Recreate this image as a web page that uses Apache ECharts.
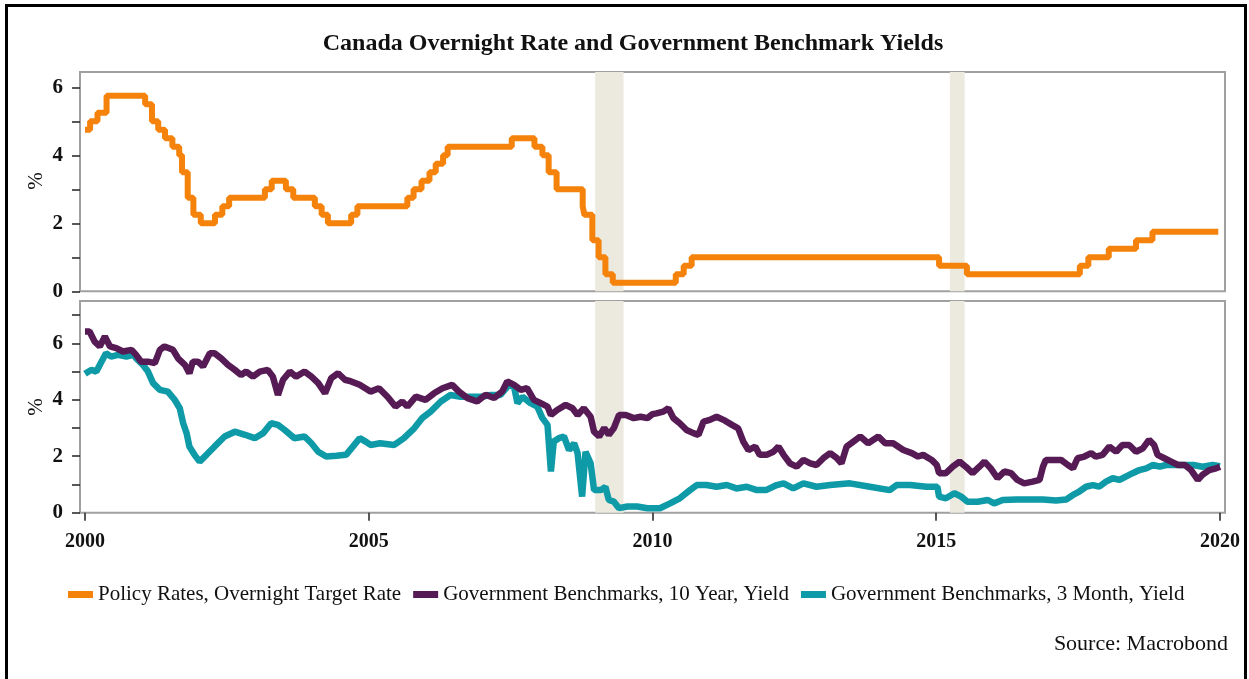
<!DOCTYPE html>
<html>
<head>
<meta charset="utf-8">
<script src="https://cdn.jsdelivr.net/npm/echarts@6/dist/echarts.min.js"></script>
<style>
  html, body { margin: 0; padding: 0; background: #fff; }
  #chart { width: 1249px; height: 679px; }
</style>
</head>
<body>
<div id="chart"></div>
<script>
// policy rate: date of change (decimal year) and new target rate
var policyDates = [2000.00, 2000.09, 2000.22, 2000.38, 2001.06, 2001.18, 2001.29, 2001.41, 2001.54, 2001.66,
  2001.71, 2001.81, 2001.91, 2002.04, 2002.29, 2002.42, 2002.54, 2003.17, 2003.29, 2003.54,
  2003.67, 2004.05, 2004.17, 2004.28, 2004.69, 2004.80, 2005.68, 2005.79, 2005.93, 2006.07,
  2006.18, 2006.31, 2006.39, 2007.52, 2007.92, 2008.06, 2008.17, 2008.31, 2008.77, 2008.80,
  2008.94, 2009.05, 2009.17, 2009.30, 2010.41, 2010.55, 2010.69, 2015.05, 2015.54, 2017.53,
  2017.68, 2018.04, 2018.52, 2018.81, 2019.97]
var policyRates = [4.75, 5.00, 5.25, 5.75, 5.50, 5.00, 4.75, 4.50, 4.25, 4.00,
  3.50, 2.75, 2.25, 2.00, 2.25, 2.50, 2.75, 3.00, 3.25, 3.00,
  2.75, 2.50, 2.25, 2.00, 2.25, 2.50, 2.75, 3.00, 3.25, 3.50,
  3.75, 4.00, 4.25, 4.50, 4.25, 4.00, 3.50, 3.00, 2.50, 2.25,
  1.50, 1.00, 0.50, 0.25, 0.50, 0.75, 1.00, 0.75, 0.50, 0.75,
  1.00, 1.25, 1.50, 1.75, 1.75]

var tenYearDates = [2000.00, 2000.08, 2000.17, 2000.26, 2000.35, 2000.44, 2000.55, 2000.67, 2000.82, 2000.90,
  2000.99, 2001.11, 2001.23, 2001.32, 2001.40, 2001.55, 2001.64, 2001.76, 2001.84, 2001.90,
  2001.99, 2002.08, 2002.20, 2002.28, 2002.40, 2002.52, 2002.64, 2002.75, 2002.84, 2002.96,
  2003.08, 2003.22, 2003.31, 2003.40, 2003.49, 2003.61, 2003.72, 2003.87, 2003.99, 2004.11,
  2004.23, 2004.34, 2004.46, 2004.58, 2004.69, 2004.84, 2004.96, 2005.03, 2005.18, 2005.33,
  2005.47, 2005.59, 2005.68, 2005.83, 2006.00, 2006.15, 2006.30, 2006.47, 2006.59, 2006.74,
  2006.91, 2007.06, 2007.21, 2007.35, 2007.44, 2007.56, 2007.68, 2007.79, 2007.91, 2008.03,
  2008.15, 2008.21, 2008.32, 2008.47, 2008.59, 2008.68, 2008.79, 2008.91, 2008.97, 2009.06,
  2009.15, 2009.23, 2009.32, 2009.41, 2009.53, 2009.67, 2009.79, 2009.91, 2010.00, 2010.07,
  2010.19, 2010.28, 2010.37, 2010.48, 2010.60, 2010.72, 2010.81, 2010.90, 2011.01, 2011.13,
  2011.25, 2011.40, 2011.51, 2011.60, 2011.69, 2011.81, 2011.89, 2012.01, 2012.13, 2012.22,
  2012.31, 2012.42, 2012.54, 2012.66, 2012.78, 2012.89, 2013.01, 2013.13, 2013.25, 2013.33,
  2013.42, 2013.54, 2013.66, 2013.80, 2013.98, 2014.10, 2014.24, 2014.42, 2014.57, 2014.68,
  2014.77, 2014.92, 2015.01, 2015.05, 2015.17, 2015.29, 2015.41, 2015.52, 2015.64, 2015.76,
  2015.85, 2015.96, 2016.08, 2016.20, 2016.32, 2016.43, 2016.55, 2016.70, 2016.82, 2016.88,
  2016.93, 2017.05, 2017.20, 2017.32, 2017.41, 2017.49, 2017.61, 2017.73, 2017.81, 2017.93,
  2018.05, 2018.17, 2018.28, 2018.40, 2018.52, 2018.64, 2018.75, 2018.84, 2018.90, 2019.02,
  2019.14, 2019.26, 2019.38, 2019.49, 2019.61, 2019.69, 2019.81, 2019.93, 2020.00]
var tenYearValues = [6.42, 6.42, 6.06, 5.89, 6.24, 5.89, 5.83, 5.71, 5.77, 5.59,
  5.35, 5.35, 5.30, 5.77, 5.89, 5.77, 5.47, 5.24, 4.94, 5.35,
  5.35, 5.18, 5.65, 5.65, 5.47, 5.24, 5.06, 4.88, 5.00, 4.82,
  5.00, 5.06, 4.82, 4.17, 4.71, 5.00, 4.82, 5.00, 4.82, 4.59,
  4.23, 4.77, 4.94, 4.71, 4.65, 4.53, 4.38, 4.29, 4.41, 4.11,
  3.76, 3.94, 3.76, 4.11, 4.00, 4.23, 4.41, 4.53, 4.29, 4.06,
  3.94, 4.18, 4.06, 4.29, 4.65, 4.53, 4.35, 4.41, 4.00, 3.88,
  3.76, 3.46, 3.64, 3.82, 3.70, 3.46, 3.70, 3.40, 2.87, 2.70,
  3.00, 2.76, 3.00, 3.46, 3.46, 3.35, 3.40, 3.35, 3.49, 3.52,
  3.58, 3.70, 3.35, 3.17, 2.93, 2.82, 2.76, 3.23, 3.29, 3.40,
  3.29, 3.11, 2.99, 2.52, 2.22, 2.34, 2.05, 2.05, 2.16, 2.34,
  2.05, 1.75, 1.63, 1.87, 1.75, 1.69, 1.93, 2.11, 1.93, 1.75,
  2.34, 2.52, 2.70, 2.46, 2.70, 2.46, 2.46, 2.22, 2.11, 1.99,
  2.05, 1.87, 1.69, 1.40, 1.40, 1.63, 1.81, 1.63, 1.40, 1.63,
  1.81, 1.57, 1.22, 1.46, 1.40, 1.16, 1.04, 1.10, 1.16, 1.63,
  1.87, 1.87, 1.87, 1.69, 1.57, 1.93, 1.99, 2.11, 1.99, 2.05,
  2.34, 2.16, 2.40, 2.40, 2.16, 2.28, 2.58, 2.40, 2.05, 1.93,
  1.81, 1.69, 1.69, 1.51, 1.16, 1.34, 1.51, 1.57, 1.63]

var threeMonthDates = [2000.00, 2000.11, 2000.20, 2000.29, 2000.37, 2000.46, 2000.58, 2000.73, 2000.85, 2000.93,
  2001.02, 2001.11, 2001.20, 2001.32, 2001.46, 2001.58, 2001.67, 2001.73, 2001.79, 2001.84,
  2001.93, 2002.02, 2002.14, 2002.28, 2002.46, 2002.64, 2002.82, 2002.99, 2003.14, 2003.28,
  2003.40, 2003.52, 2003.69, 2003.87, 2003.99, 2004.11, 2004.25, 2004.43, 2004.60, 2004.72,
  2004.84, 2004.96, 2005.03, 2005.20, 2005.45, 2005.62, 2005.80, 2005.94, 2006.09, 2006.27,
  2006.44, 2006.62, 2006.80, 2006.98, 2007.15, 2007.32, 2007.47, 2007.56, 2007.62, 2007.71,
  2007.85, 2007.97, 2008.06, 2008.15, 2008.21, 2008.26, 2008.35, 2008.44, 2008.53, 2008.62,
  2008.68, 2008.76, 2008.82, 2008.91, 2008.97, 2009.09, 2009.17, 2009.23, 2009.32, 2009.41,
  2009.56, 2009.73, 2009.91, 2010.01, 2010.13, 2010.31, 2010.48, 2010.66, 2010.78, 2010.95,
  2011.13, 2011.31, 2011.48, 2011.66, 2011.84, 2012.00, 2012.19, 2012.31, 2012.48, 2012.66,
  2012.89, 2013.13, 2013.48, 2013.83, 2014.18, 2014.30, 2014.54, 2014.83, 2015.02, 2015.05,
  2015.17, 2015.32, 2015.44, 2015.55, 2015.73, 2015.91, 2016.02, 2016.17, 2016.41, 2016.64,
  2016.88, 2017.11, 2017.29, 2017.41, 2017.52, 2017.64, 2017.76, 2017.87, 2017.99, 2018.11,
  2018.23, 2018.34, 2018.46, 2018.58, 2018.70, 2018.82, 2018.94, 2019.05, 2019.17, 2019.35,
  2019.53, 2019.69, 2019.87, 2020.00]
var threeMonthValues = [4.92, 5.06, 5.00, 5.35, 5.65, 5.53, 5.59, 5.53, 5.59, 5.41,
  5.24, 5.00, 4.59, 4.35, 4.29, 4.00, 3.70, 3.17, 2.82, 2.34,
  2.05, 1.81, 2.05, 2.34, 2.70, 2.87, 2.76, 2.64, 2.82, 3.17,
  3.11, 2.93, 2.64, 2.70, 2.46, 2.16, 1.99, 2.02, 2.05, 2.34,
  2.64, 2.50, 2.40, 2.46, 2.40, 2.64, 2.99, 3.35, 3.58, 3.94,
  4.17, 4.11, 4.11, 4.11, 4.17, 4.17, 4.53, 4.47, 3.88, 4.11,
  3.88, 3.76, 3.35, 3.11, 1.46, 2.52, 2.64, 2.70, 2.22, 2.46,
  2.11, 0.57, 2.16, 1.75, 0.80, 0.80, 0.92, 0.45, 0.39, 0.16,
  0.22, 0.22, 0.16, 0.16, 0.16, 0.33, 0.51, 0.80, 0.98, 0.98,
  0.92, 0.98, 0.86, 0.92, 0.80, 0.80, 0.98, 1.04, 0.86, 1.04,
  0.92, 0.98, 1.04, 0.92, 0.80, 0.98, 0.98, 0.92, 0.92, 0.57,
  0.51, 0.69, 0.57, 0.39, 0.39, 0.45, 0.33, 0.45, 0.47, 0.47,
  0.47, 0.43, 0.47, 0.63, 0.75, 0.92, 0.98, 0.92, 1.10, 1.22,
  1.16, 1.28, 1.40, 1.51, 1.57, 1.69, 1.63, 1.69, 1.69, 1.69,
  1.69, 1.63, 1.69, 1.65]

// shaded periods [start, end]
var recessions = [[2008.99, 2009.49], [2015.24, 2015.50]]

var yearTicks = [2000, 2005, 2010, 2015, 2020]
var topTicks = [0, 1, 2, 3, 4, 5, 6]
var topLabels = [0, 2, 4, 6]
var bottomTicks = [0, 1, 2, 3, 4, 5, 6, 7]
var bottomLabels = [0, 2, 4, 6]

var seriesNames = ['Policy Rates, Overnight Target Rate', 'Government Benchmarks, 10 Year, Yield', 'Government Benchmarks, 3 Month, Yield']

function pairs (xs, ys){
  let out = []
  for(let i = 0;i<xs.length;i++){
    out.push([xs[i], ys[i]])
  }
  return out
}

var font = 'Liberation Serif'
var xMin = 2000 - 5 / 56.75
var xMax = 2020 + 5 / 56.75

function xAxisOf (gridIndex, showLabels){
  return {
    type: 'value',
    gridIndex: gridIndex,
    min: xMin,
    max: xMax,
    splitLine: {show: false},
    axisLine: {show: false},
    axisTick: {
      show: showLabels,
      customValues: yearTicks,
      length: 8,
      lineStyle: {color: '#222', width: 1.5},
    },
    axisLabel: {
      show: showLabels,
      customValues: yearTicks,
      margin: 19,
      fontFamily: font,
      fontWeight: 'bold',
      fontSize: 20,
      color: '#111',
      formatter: function (v){ return String(Math.round(v)) },
    },
  }
}

function yAxisOf (gridIndex, max, ticks, labels){
  return {
    type: 'value',
    gridIndex: gridIndex,
    min: 0,
    max: max,
    splitLine: {show: false},
    axisLine: {show: false},
    axisTick: {
      show: true,
      customValues: ticks,
      length: 8,
      lineStyle: {color: '#222', width: 1.5},
    },
    axisLabel: {
      customValues: labels,
      margin: 17,
      fontFamily: font,
      fontWeight: 'bold',
      fontSize: 21,
      color: '#111',
    },
  }
}

// rotated "%" unit label beside a panel
function unitLabel (y){
  return {
    type: 'text',
    x: 36,
    y: y,
    rotation: Math.PI / 2,
    silent: true,
    style: {text: '%', fontFamily: font, fontSize: 21, fill: '#111', align: 'center', verticalAlign: 'middle'},
  }
}

var shade = {
  silent: true,
  itemStyle: {color: '#ECE9DF'},
  data: recessions.map(function (r){ return [{xAxis: r[0]}, {xAxis: r[1]}] }),
}

var chart = echarts.init(document.getElementById('chart'))
var option = {
  backgroundColor: '#fff',
  animation: false,
  title: {
    text: 'Canada Overnight Rate and Government Benchmark Yields',
    left: 628,
    textAlign: 'center',
    top: 27,
    textStyle: {fontFamily: font, fontWeight: 'bold', fontSize: 24, color: '#111'},
  },
  legend: {
    data: seriesNames,
    left: 68,
    top: 584,
    padding: 0,
    itemGap: 12,
    itemWidth: 25,
    itemHeight: 7,
    icon: 'rect',
    textStyle: {fontFamily: font, fontSize: 21, color: '#111'},
  },
  grid: [
    {left: 80, width: 1145, top: 72, height: 219.3, show: true, borderColor: '#a0a0a0', borderWidth: 2},
    {left: 80, width: 1145, top: 301, height: 211.7, show: true, borderColor: '#a0a0a0', borderWidth: 2},
  ],
  xAxis: [xAxisOf(0, false), xAxisOf(1, true)],
  yAxis: [yAxisOf(0, 6.45, topTicks, topLabels), yAxisOf(1, 7.5, bottomTicks, bottomLabels)],
  series: [
    {
      name: seriesNames[0],
      type: 'line',
      xAxisIndex: 0,
      yAxisIndex: 0,
      step: 'end',
      showSymbol: false,
      color: '#F5820A',
      lineStyle: {width: 6, color: '#F5820A'},
      data: pairs(policyDates, policyRates),
      markArea: shade,
    },
    {
      name: seriesNames[2],
      type: 'line',
      xAxisIndex: 1,
      yAxisIndex: 1,
      showSymbol: false,
      color: '#0E9AA7',
      lineStyle: {width: 6.5, color: '#0E9AA7'},
      data: pairs(threeMonthDates, threeMonthValues),
      markArea: shade,
    },
    {
      name: seriesNames[1],
      type: 'line',
      xAxisIndex: 1,
      yAxisIndex: 1,
      showSymbol: false,
      color: '#561B55',
      lineStyle: {width: 6.5, color: '#561B55'},
      data: pairs(tenYearDates, tenYearValues),
    },
  ],
  graphic: [
    {
      type: 'rect',
      silent: true,
      shape: {x: 6.5, y: 5.5, width: 1239, height: 700},
      style: {fill: 'none', stroke: '#000', lineWidth: 3},
    },
    unitLabel(181),
    unitLabel(407),
    {
      type: 'text',
      right: 21,
      top: 633,
      style: {text: 'Source: Macrobond', fontFamily: font, fontSize: 22, fill: '#111'},
    },
  ],
}
chart.setOption(option)
</script>
</body>
</html>
